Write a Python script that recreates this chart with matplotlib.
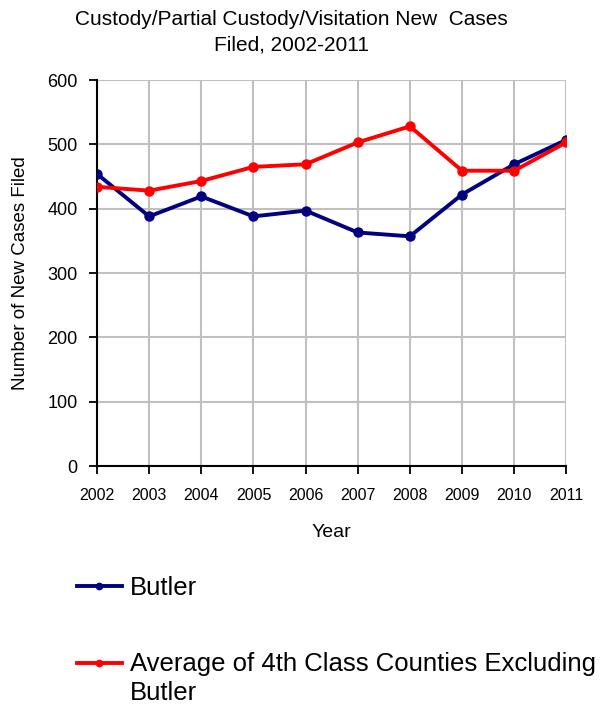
import matplotlib
matplotlib.use("Agg")
import numpy as np
import matplotlib.pyplot as plt
from matplotlib.legend_handler import HandlerLine2D

plt.rcParams['font.family'] = ['Liberation Sans', 'DejaVu Sans']

years = [2002, 2003, 2004, 2005, 2006, 2007, 2008, 2009, 2010, 2011]
butler = [454, 388, 419, 388, 397, 363, 357, 422, 469, 507]
avg_4th_class = [434, 428, 443, 465, 469, 503, 528, 459, 459, 503]


# legend handle lined up with the first line of a two-line label
class FirstLineHandler(HandlerLine2D):
    def __init__(self, shift=0.0, **kw):
        super().__init__(**kw)
        self.shift = shift

    def create_artists(self, legend, orig_handle, xdescent, ydescent,
                       width, height, fontsize, trans):
        arts = super().create_artists(legend, orig_handle, xdescent, ydescent,
                                      width, height, fontsize, trans)
        for a in arts:
            a.set_ydata(np.asarray(a.get_ydata()) + self.shift * fontsize)
        return arts


fig = plt.figure(figsize=(6.04, 7.08), dpi=100)
ax = fig.add_axes([0.1606, 0.3418, 0.777, 0.5452])

l1, = ax.plot(years, butler, color="#000080", lw=2.8, marker="o", ms=6.5,
              label="Butler", zorder=3)
l2, = ax.plot(years, avg_4th_class, color="#FF0000", lw=2.8, marker="o", ms=6.5,
              label="Average of 4th Class Counties Excluding\nButler", zorder=3)

ax.set_xlim(2002, 2011)
ax.set_ylim(0, 600)
ax.set_xticks(years)
ax.set_yticks(range(0, 601, 100))
ax.grid(True, color="#C0C0C0", lw=1.5)
ax.set_axisbelow(True)
for s in ["top", "right"]:
    ax.spines[s].set_visible(False)
for s in ["left", "bottom"]:
    ax.spines[s].set_linewidth(1.5)
ax.tick_params(axis="x", labelsize=11.5, direction="out", length=6, width=1.3, pad=10)
ax.tick_params(axis="y", labelsize=13, direction="out", length=6, width=1.3, pad=8)

ax.set_xlabel("Year", fontsize=14, labelpad=15)
ax.set_ylabel("Number of New Cases Filed", fontsize=13.5)
ax.yaxis.set_label_coords(-0.145, 0.5)

fig.text(0.483, 0.9545, "Custody/Partial Custody/Visitation New  Cases\nFiled, 2002-2011",
         ha="center", va="center", fontsize=15, linespacing=1.45)

leg = fig.legend(handles=[l1, l2], loc="upper left", bbox_to_anchor=(0.1275, 0.186),
                 frameon=False, fontsize=18.5, handlelength=1.75, handletextpad=0.3,
                 labelspacing=2.0, borderpad=0, borderaxespad=0, markerscale=0.7,
                 handler_map={l2: FirstLineHandler(shift=0.62)})
leg.get_texts()[1].set_linespacing(1.28)

fig.savefig("out.png", dpi=100)
